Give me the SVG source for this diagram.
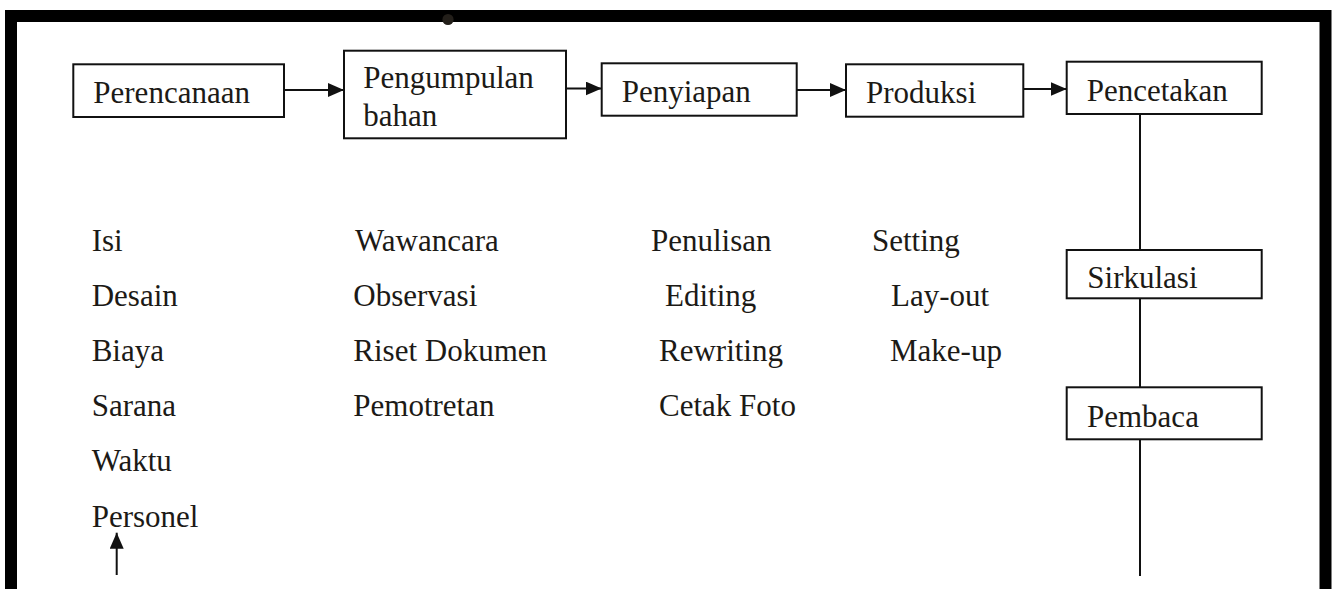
<svg xmlns="http://www.w3.org/2000/svg" width="1336" height="589" viewBox="0 0 1336 589">
  <style>
    .box { fill: #ffffff; stroke: #111111; stroke-width: 2; }
    .lbl { font-family: "Liberation Serif", "Times New Roman", serif; font-size: 31px; fill: #1c1a16; }
    .edge { fill: none; stroke: #111111; stroke-width: 2; }
  </style>
  <defs>
    <marker id="arrow" viewBox="0 0 16 14" refX="16" refY="7" markerWidth="16" markerHeight="14" markerUnits="userSpaceOnUse" orient="auto">
      <path d="M0 0 L16 7 L0 14 Z" fill="#111111"/>
    </marker>
  </defs>

  <rect width="1336" height="589" fill="#ffffff"/>

  <!-- page frame (open at the bottom) -->
  <path d="M11 589 V16 H1325.5 V589" fill="none" stroke="#000000" stroke-width="12"/>
  <circle cx="448" cy="19.5" r="5.6" fill="#231f1a"/>

  <!-- connectors -->
  <g id="connectors">
    <path class="edge" d="M284 90 H344" marker-end="url(#arrow)"/>
    <path class="edge" d="M566 88.5 H601.7" marker-end="url(#arrow)"/>
    <path class="edge" d="M796.7 90 H846" marker-end="url(#arrow)"/>
    <path class="edge" d="M1023.3 89 H1066.7" marker-end="url(#arrow)"/>
    <path class="edge" d="M1140 114 V250"/>
    <path class="edge" d="M1140 298 V387.3"/>
    <path class="edge" d="M1140 439.3 V576"/>
    <path class="edge" d="M116.7 575 V532.7" marker-end="url(#arrow)"/>
  </g>

  <!-- main process steps -->
  <g id="perencanaan">
    <rect class="box" x="73.3" y="64.3" width="210.7" height="52.7"/>
    <text class="lbl" x="93.3" y="103.3">Perencanaan</text>
  </g>
  <g id="pengumpulan-bahan">
    <rect class="box" x="344" y="50.7" width="222" height="87.6"/>
    <text class="lbl" x="363.3" y="88.3">Pengumpulan</text>
    <text class="lbl" x="363.3" y="126">bahan</text>
  </g>
  <g id="penyiapan">
    <rect class="box" x="601.7" y="63.3" width="195" height="52.4"/>
    <text class="lbl" x="621.7" y="101.7">Penyiapan</text>
  </g>
  <g id="produksi">
    <rect class="box" x="846" y="64.3" width="177.3" height="52.4"/>
    <text class="lbl" x="866" y="102.7">Produksi</text>
  </g>
  <g id="pencetakan">
    <rect class="box" x="1066.7" y="61.7" width="195" height="52.3"/>
    <text class="lbl" x="1086.7" y="101">Pencetakan</text>
  </g>
  <g id="sirkulasi">
    <rect class="box" x="1066.7" y="250" width="195" height="48.3"/>
    <text class="lbl" x="1087.3" y="288.3">Sirkulasi</text>
  </g>
  <g id="pembaca">
    <rect class="box" x="1066.7" y="387.3" width="195" height="52"/>
    <text class="lbl" x="1087" y="426.7">Pembaca</text>
  </g>

  <!-- planning items -->
  <g id="list-perencanaan" class="lbl">
    <text x="91.7" y="250.7">Isi</text>
    <text x="91.7" y="306">Desain</text>
    <text x="91.7" y="361">Biaya</text>
    <text x="91.7" y="416">Sarana</text>
    <text x="91.7" y="471">Waktu</text>
    <text x="91.7" y="526.7">Personel</text>
  </g>

  <!-- gathering items -->
  <g id="list-pengumpulan" class="lbl">
    <text x="355" y="250.7">Wawancara</text>
    <text x="353.3" y="306">Observasi</text>
    <text x="353.3" y="361">Riset Dokumen</text>
    <text x="353.3" y="416">Pemotretan</text>
  </g>

  <!-- preparation items -->
  <g id="list-penyiapan" class="lbl">
    <text x="651" y="250.7">Penulisan</text>
    <text x="665" y="306">Editing</text>
    <text x="659" y="361">Rewriting</text>
    <text x="659" y="416">Cetak Foto</text>
  </g>

  <!-- production items -->
  <g id="list-produksi" class="lbl">
    <text x="872" y="250.7">Setting</text>
    <text x="891" y="306">Lay-out</text>
    <text x="890" y="361">Make-up</text>
  </g>
</svg>
